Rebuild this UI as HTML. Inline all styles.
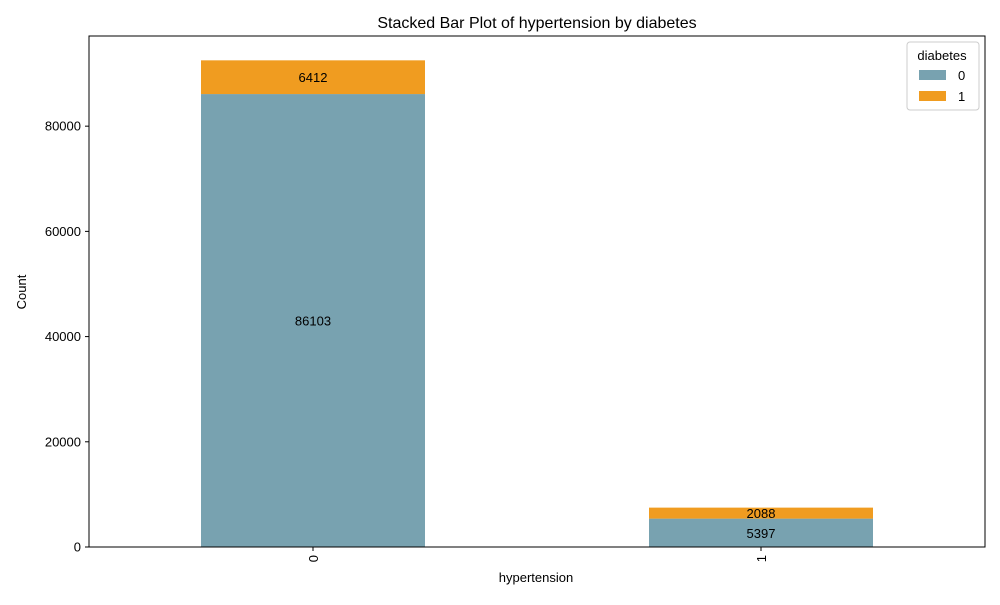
<!DOCTYPE html>
<html><head><meta charset="utf-8"><style>
body{margin:0;background:#fff;font-family:"Liberation Sans","DejaVu Sans",sans-serif;}
svg text{font-family:"Liberation Sans","DejaVu Sans",sans-serif;}
</style></head><body>
<svg id="chart" width="1000" height="600" xmlns="http://www.w3.org/2000/svg">
<rect width="1000" height="600" fill="#fff"/>
<text x="537" y="28" font-size="16" text-anchor="middle">Stacked Bar Plot of hypertension by diabetes</text>
<g id="bars"></g>
<g id="yaxis"></g>
<g id="xaxis"></g>
<rect x="89" y="36" width="896" height="511" fill="none" stroke="#000" stroke-width="1"/>
<text transform="translate(26,292) rotate(-90)" font-size="13" text-anchor="middle">Count</text>
<text x="536" y="582" font-size="13" text-anchor="middle">hypertension</text>
<g>
<rect x="907" y="42" width="72" height="68" rx="3" fill="#fff" stroke="#ccc"/>
<text x="942" y="60" font-size="13" text-anchor="middle">diabetes</text>
<rect x="919" y="70" width="27" height="10" fill="#78a2b0"/>
<text x="958" y="80" font-size="13">0</text>
<rect x="919" y="91" width="27" height="10" fill="#f09c20"/>
<text x="958" y="101" font-size="13">1</text>
</g>
</svg>
<script>
const categories = ["0","1"];
const diabetes0 = [86103, 5397];
const diabetes1 = [6412, 2088];
const yTicks = [0,20000,40000,60000,80000];
const NS="http://www.w3.org/2000/svg";
const plotLeft=89,plotRight=985,plotTop=36,plotBottom=547;
const maxTotal=Math.max(...categories.map((c,i)=>diabetes0[i]+diabetes1[i]));
const yMax=maxTotal*1.05;
const yScale=v=>plotBottom-(v/yMax)*(plotBottom-plotTop);
const xScale=i=>plotLeft+(i+0.5)/categories.length*(plotRight-plotLeft);
const bw=(plotRight-plotLeft)/categories.length*0.5;
function mk(tag,attrs,parent,txt){const e=document.createElementNS(NS,tag);for(const k in attrs)e.setAttribute(k,attrs[k]);if(txt!==undefined)e.textContent=txt;parent.appendChild(e);return e;}
const barsG=document.getElementById('bars');
categories.forEach((c,i)=>{
  const cx=xScale(i);
  const r0=mk('rect',{x:cx-bw/2,y:yScale(diabetes0[i]),width:bw,height:yScale(0)-yScale(diabetes0[i]),fill:'#78a2b0'},barsG);
  
  
  const t=diabetes0[i]+diabetes1[i];
  const r1=mk('rect',{x:cx-bw/2,y:yScale(t),width:bw,height:yScale(diabetes0[i])-yScale(t),fill:'#f09c20'},barsG);
  
  
  const l0=mk('text',{x:cx,y:(yScale(0)+yScale(diabetes0[i]))/2+5,'font-size':13,'text-anchor':'middle'},barsG,diabetes0[i]);
  
  
  const l1=mk('text',{x:cx,y:(yScale(diabetes0[i])+yScale(t))/2+5,'font-size':13,'text-anchor':'middle'},barsG,diabetes1[i]);
  
  
});
const ya=document.getElementById('yaxis');
yTicks.forEach(v=>{
  const yy=yScale(v);
  mk('line',{x1:plotLeft-4,x2:plotLeft,y1:yy,y2:yy,stroke:'#000'},ya);
  const tl=mk('text',{x:plotLeft-8,y:yy+4.5,'font-size':13,'text-anchor':'end'},ya,v);
  
  
});
const xa=document.getElementById('xaxis');
categories.forEach((c,i)=>{
  const xx=xScale(i);
  mk('line',{x1:xx,x2:xx,y1:plotBottom,y2:plotBottom+4,stroke:'#000'},xa);
  const tl=mk('text',{transform:`translate(${xx+5},${plotBottom+8}) rotate(-90)`,'font-size':13,'text-anchor':'end'},xa,c);
  
  
});
</script>
</body></html>
